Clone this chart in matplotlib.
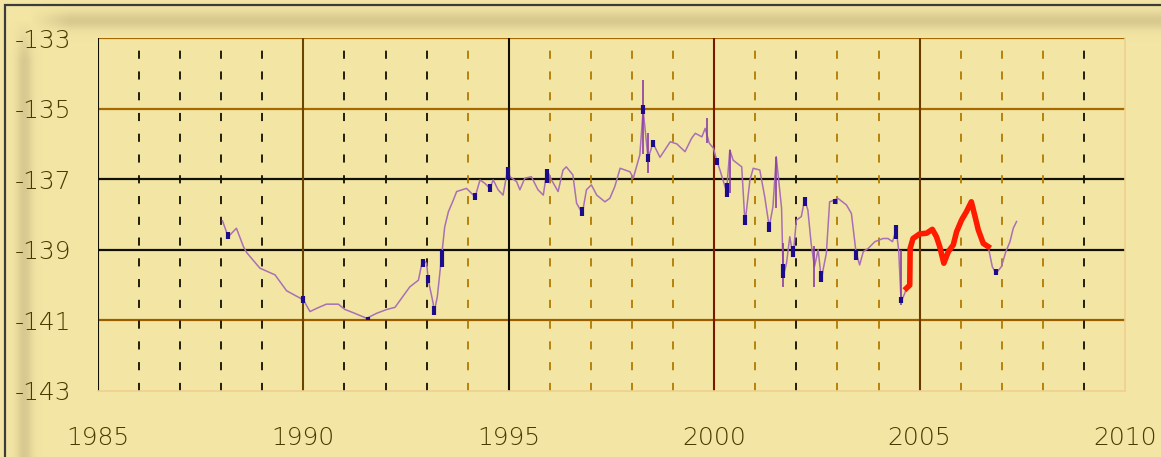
"""Stepped yearly series on a yellow Excel-style grid."""
import numpy as np
import matplotlib.pyplot as plt
from matplotlib.patches import Rectangle
from matplotlib.colors import LinearSegmentedColormap

# main series (decimal year, value)
years = [1988.03, 1988.17, 1988.37, 1988.54, 1988.62, 1988.94, 1989.31, 1989.59,
         1990.00, 1990.16, 1990.32, 1990.56, 1990.85, 1991.01, 1991.21, 1991.54,
         1991.78, 1992.03, 1992.23, 1992.59, 1992.80, 1992.90, 1993.00, 1993.04,
         1993.16, 1993.18, 1993.26, 1993.32, 1993.38, 1993.44, 1993.53, 1993.65,
         1993.73, 1993.97, 1994.18, 1994.30, 1994.42, 1994.54, 1994.62, 1994.74,
         1994.86, 1994.97, 1995.03, 1995.19, 1995.27, 1995.39, 1995.55, 1995.71,
         1995.84, 1995.93, 1996.04, 1996.20, 1996.32, 1996.40, 1996.56, 1996.65,
         1996.79, 1996.89, 1997.01, 1997.14, 1997.34, 1997.46, 1997.58, 1997.71,
         1997.95, 1998.03, 1998.19, 1998.27, 1998.39, 1998.51, 1998.68, 1998.93,
         1999.09, 1999.29, 1999.45, 1999.54, 1999.70, 1999.78, 1999.88, 1999.98,
         2000.06, 2000.14, 2000.30, 2000.38, 2000.46, 2000.67, 2000.75, 2000.87,
         2000.95, 2001.11, 2001.23, 2001.34, 2001.43, 2001.51, 2001.64, 2001.68,
         2001.76, 2001.84, 2001.92, 2002.00, 2002.12, 2002.20, 2002.28, 2002.36,
         2002.44, 2002.53, 2002.61, 2002.65, 2002.73, 2002.81, 2002.93, 2003.01,
         2003.22, 2003.34, 2003.45, 2003.54, 2003.63, 2003.75, 2003.91, 2004.11,
         2004.23, 2004.34, 2004.43, 2004.49, 2004.55, 2004.64, 2004.68, 2004.76,
         2004.77, 2004.84, 2005.00, 2005.17, 2005.31, 2005.41, 2005.49, 2005.59,
         2005.70, 2005.82, 2005.90, 2006.02, 2006.14, 2006.26, 2006.35, 2006.43,
         2006.55, 2006.67, 2006.77, 2006.86, 2006.99, 2007.10, 2007.20, 2007.28,
         2007.36]
values = [-138.18, -138.63, -138.39, -138.91, -139.08, -139.52, -139.71, -140.16,
          -140.42, -140.75, -140.66, -140.54, -140.54, -140.69, -140.78, -140.94,
          -140.80, -140.69, -140.63, -140.05, -139.86, -139.29, -139.38, -139.86,
          -140.52, -140.78, -140.33, -139.67, -139.00, -138.35, -137.92, -137.59,
          -137.35, -137.26, -137.50, -137.02, -137.12, -137.26, -137.02, -137.30,
          -137.45, -136.74, -136.93, -137.07, -137.30, -136.97, -136.93, -137.30,
          -137.45, -136.74, -137.02, -137.35, -136.74, -136.65, -136.88, -137.68,
          -137.97, -137.30, -137.16, -137.45, -137.64, -137.54, -137.21, -136.69,
          -136.79, -136.97, -136.31, -135.04, -136.41, -135.98, -136.38, -135.94,
          -136.00, -136.22, -135.84, -135.70, -135.80, -135.56, -135.98, -136.12,
          -136.46, -136.74, -137.35, -136.17, -136.46, -136.65, -138.25, -137.02,
          -136.69, -136.74, -137.50, -138.35, -137.78, -136.36, -137.82, -139.76,
          -139.38, -138.63, -139.19, -138.16, -138.06, -137.59, -137.87, -138.82,
          -139.48, -139.00, -139.86, -139.57, -139.10, -137.64, -137.59, -137.54,
          -137.73, -137.97, -139.05, -139.43, -139.05, -138.96, -138.77, -138.68,
          -138.68, -138.77, -138.44, -139.00, -140.47, -140.23, -140.09, -140.00,
          -138.96, -138.68, -138.55, -138.53, -138.42, -138.63, -138.91, -139.38,
          -139.05, -138.86, -138.49, -138.16, -137.92, -137.64, -138.06, -138.44,
          -138.82, -138.91, -139.48, -139.67, -139.48, -139.05, -138.77, -138.39,
          -138.20]

# highlighted stretch
red_start, red_end = 2004.68, 2006.67

# thin spikes (year, low, high)
wick_years = [1998.27, 1998.39, 1999.82, 2000.38, 2001.51, 2001.68, 2002.44, 2004.55]
wick_low = [-136.30, -136.82, -135.98, -137.40, -137.82, -140.05, -140.05, -140.55]
wick_high = [-134.19, -135.70, -135.27, -136.17, -136.36, -138.80, -138.90, -139.00]

# dark bodies (year, low, high)
body_years = [1988.17, 1990.00, 1991.58, 1992.90, 1993.04, 1993.18, 1993.38, 1994.18,
              1994.54, 1994.97, 1995.93, 1996.79, 1998.27, 1998.39, 1998.51, 2000.06,
              2000.30, 2000.75, 2001.34, 2001.68, 2001.92, 2002.20, 2002.61, 2002.93,
              2003.45, 2004.43, 2004.55, 2006.86]
body_low = [-138.70, -140.50, -141.00, -139.50, -139.95, -140.85, -139.50, -137.60,
            -137.35, -137.00, -137.10, -138.05, -135.15, -136.50, -136.10, -136.60,
            -137.50, -138.30, -138.50, -139.80, -139.20, -137.75, -139.90, -137.70,
            -139.30, -138.70, -140.50, -139.70]
body_high = [-138.50, -140.30, -140.90, -139.25, -139.70, -140.60, -139.00, -137.40,
             -137.15, -136.65, -136.70, -137.80, -134.90, -136.30, -135.90, -136.40,
             -137.10, -138.00, -138.20, -139.40, -138.90, -137.50, -139.60, -137.55,
             -139.00, -138.30, -140.35, -139.55]

x_ticks = [1985, 1990, 1995, 2000, 2005, 2010]
y_ticks = [-143, -141, -139, -137, -135, -133]

BG = "#f3e6a4"
GOLD = "#b07a00"


def main():
    fig = plt.figure(figsize=(11.61, 4.57), dpi=100, facecolor=BG)

    # soft shadow inside the frame, top and left
    shade = fig.add_axes([0, 0, 1, 1], zorder=-2)
    shade.set_axis_off()
    h, w = 457, 1161
    yy = np.arange(h)[:, None]
    xx = np.arange(w)[None, :]
    s = np.exp(-((yy - 20) / 9.0) ** 2) * np.clip((xx - 30) / 40, 0, 1)
    s = np.maximum(s, np.exp(-((xx - 24) / 8.0) ** 2) * np.clip((yy - 20) / 40, 0, 1))
    shade.imshow(s, cmap=LinearSegmentedColormap.from_list("sh", [BG, "#d8c990"]),
                 extent=[0, 1, 0, 1], aspect="auto")
    fig.patches.append(Rectangle((5 / w, -0.1), 2, 1.1 - 5 / h, transform=fig.transFigure,
                                 fill=False, edgecolor="#3c3c3c", lw=1.6, zorder=5))

    ax = fig.add_axes([98 / w, 1 - 391 / h, 1027 / w, 353 / h], zorder=0)
    ax.set_facecolor(BG)
    ax.set_xlim(1985, 2010)
    ax.set_ylim(-143, -133)

    # grid
    hcol = {-133: "#a86800", -135: "#a86800", -137: "#111000", -139: "#111000",
            -141: "#9a5e00"}
    for v, c in hcol.items():
        ax.axhline(v, color=c, lw=1.6, zorder=1)
    vcol = {1985: "#111000", 1990: "#6b4400", 1995: "#111000", 2000: "#7a1800",
            2005: "#6b3a00"}
    for v, c in vcol.items():
        ax.axvline(v, color=c, lw=1.5, zorder=1)
    black_minor = {1986, 1987, 1988, 1989, 1991, 1992, 1993, 2002, 2009}
    for yr in range(1986, 2010):
        if yr % 5 == 0:
            continue
        c = "#111000" if yr in black_minor else GOLD
        ax.axvline(yr, color=c, lw=1.3, dashes=(4.5, 7), zorder=1)

    yrs = np.array(years)
    vals = np.array(values)
    ax.plot(yrs, vals, color="#a870b4", lw=1.1, zorder=3)
    ax.vlines(wick_years, wick_low, wick_high, color="#8a3fa0", lw=1.2, zorder=3)
    ax.vlines(body_years, body_low, body_high, color="#1c0c8c", lw=3, zorder=4)
    m = (yrs >= red_start) & (yrs <= red_end)
    ax.plot(yrs[m], vals[m], color="#ff1a00", lw=4, zorder=5,
            solid_joinstyle="round")

    for side in ["left", "top"]:
        ax.spines[side].set_visible(False)
    for side in ["right", "bottom"]:
        ax.spines[side].set_color("#f0cf90")
        ax.spines[side].set_linewidth(1.2)

    ax.set_xticks(x_ticks)
    ax.set_yticks(y_ticks)
    ax.set_xticklabels([str(t) for t in x_ticks])
    ax.set_yticklabels([str(t) for t in y_ticks])
    ax.tick_params(length=0, labelsize=18, labelcolor="#4a3a00")
    ax.tick_params(axis="x", pad=25)
    ax.tick_params(axis="y", pad=19)
    for lab in ax.get_xticklabels() + ax.get_yticklabels():
        lab.set_fontweight("light")

    plt.savefig("out.png", dpi=100, facecolor=BG)


if __name__ == "__main__":
    main()
